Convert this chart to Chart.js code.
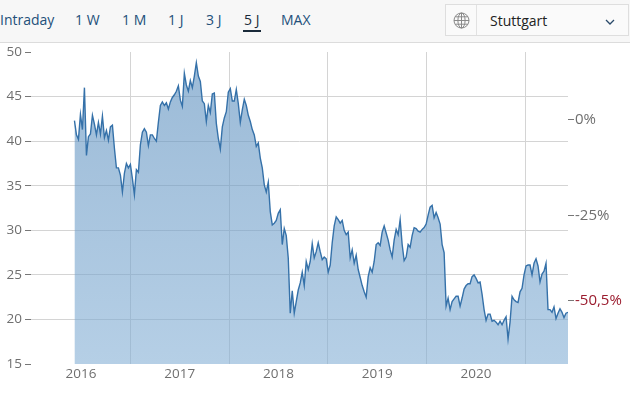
<!DOCTYPE html>
<html><head><meta charset="utf-8">
<script src="https://cdn.jsdelivr.net/npm/chart.js@4/dist/chart.umd.js"></script>
<style>
html,body{margin:0;padding:0;background:#fff;overflow:hidden}
#wrap{position:relative;width:630px;height:394px;font-family:"Open Sans",sans-serif}
canvas{position:absolute;left:0;top:0}
#head{position:absolute;left:0;top:0;width:630px;height:42px;background:#f7f7f7;border-bottom:1px solid #dcdcdc}
.t{position:absolute;top:10px;font-size:14px;line-height:20px;color:#23507a;white-space:nowrap}
#ul{position:absolute;left:243px;top:30px;width:18px;height:2px;background:#1a2a3a}
#sel{position:absolute;left:445px;top:4px;width:182px;height:30px;background:#fafafa;border:1px solid #dedede}
#div{position:absolute;left:30px;top:0;width:1px;height:30px;background:#e2e2e2}
#city{position:absolute;left:44px;top:6px;font-size:14px;line-height:20px;color:#222}
</style></head><body>
<div id="wrap">
<canvas id="c" width="630" height="394"></canvas>
<div id="head">
<span class="t" style="left:0">Intraday</span>
<span class="t" style="left:75px">1 W</span>
<span class="t" style="left:122px">1 M</span>
<span class="t" style="left:168px">1 J</span>
<span class="t" style="left:206px">3 J</span>
<span class="t" style="left:244px;color:#1a2a3a">5 J</span>
<div id="ul"></div>
<span class="t" style="left:281px">MAX</span>
<div id="sel">
<svg style="position:absolute;left:7px;top:7px" width="17" height="17" viewBox="0 0 17 17" fill="none" stroke="#8a8a8a" stroke-width="1">
<circle cx="8.5" cy="8.5" r="7.5"/><ellipse cx="8.5" cy="8.5" rx="3.6" ry="7.5"/><path d="M1 8.5h15M2 4.8h13M2 12.2h13M8.5 1v15"/></svg>
<div id="div"></div>
<span id="city">Stuttgart</span>
<svg style="position:absolute;left:159px;top:14px" width="10" height="7" viewBox="0 0 10 7" fill="none" stroke="#2a4a6a" stroke-width="1.3"><path d="M1 1l4 4 4-4"/></svg>
</div>
</div>
</div>
<script>
const prices = [
42.3,40.7,40.2,43.0,41.3,46.0,38.4,40.5,40.8,42.9,41.9,40.7,42.1,40.8,42.8,40.4,41.2,40.1,41.6,41.8,
39.2,37.0,37.0,36.2,34.3,36.4,37.5,37.0,37.4,35.8,34.0,36.8,36.5,39.6,41.0,41.4,41.0,39.5,40.7,40.7,
40.3,40.0,42.1,44.0,44.4,44.0,44.3,43.6,44.4,44.9,45.2,45.6,46.2,44.6,43.9,47.6,46.3,45.6,46.8,46.0,
47.3,48.8,47.3,46.7,44.5,44.2,42.2,44.0,43.2,45.3,45.4,42.0,40.3,39.1,41.6,42.6,43.3,45.5,45.9,44.5,
44.5,45.8,44.2,42.1,43.5,44.7,44.0,42.9,42.2,41.3,40.7,39.4,39.8,38.1,37.0,35.1,34.3,35.4,32.1,30.6,
30.8,31.1,31.9,32.3,28.4,30.2,29.4,26.9,20.7,23.2,20.7,22.0,23.3,24.1,25.3,23.8,26.5,25.6,26.5,28.5,
26.9,27.6,28.6,27.6,26.7,27.0,26.8,25.3,26.1,28.6,30.5,31.5,31.2,30.8,31.1,30.0,29.5,29.8,26.9,27.8,
26.3,27.2,25.6,24.7,23.8,23.1,22.5,24.8,25.8,25.3,26.5,28.4,28.6,28.3,29.8,30.5,29.7,28.9,27.8,27.0,
28.9,30.1,29.5,31.2,28.4,26.6,27.0,28.4,28.1,29.4,30.3,30.2,29.9,29.8,30.1,30.3,30.7,31.7,32.6,32.8,
31.4,32.0,31.4,30.7,28.4,27.5,21.5,22.4,21.1,22.0,22.3,22.6,22.6,21.5,22.4,23.4,23.8,24.0,24.0,24.8,
25.0,24.6,24.1,24.2,22.8,21.1,19.9,20.6,20.6,19.8,19.9,19.7,19.4,19.8,19.4,19.9,20.3,17.8,19.7,22.6,
22.2,22.0,21.9,23.1,23.5,25.0,26.0,26.1,26.1,25.0,26.3,26.8,26.0,24.2,25.1,25.4,26.3,21.1,21.1,20.8,
21.4,20.1,20.7,21.2,20.8,20.2,20.7,20.8
];
const firstDate = 2015.934;
const lastDate = 2020.932;
const yearLabels = [2016,2017,2018,2019,2020];
const midYears = [2016.5,2017.5,2018.5,2019.5,2020.5];
const priceTicks = [15,20,25,30,35,40,45,50];
const priceGridless = [15,50];
const pctTicks = [0,-25,-47.4];
const pctLabels = ['0%','-25%','-50,5%'];
const pctColors = ['#6f6f6f','#6f6f6f','#9b1c2e'];
const dates = prices.map((_,i)=>firstDate+i*(lastDate-firstDate)/(prices.length-1));
const points = prices.map((p,i)=>({x:dates[i],y:p}));

function fade(ctx){
  const a=ctx.chart.chartArea;
  if(!a) return 'rgba(110,160,200,.6)';
  const g=ctx.chart.ctx.createLinearGradient(0,a.top,0,a.bottom);
  g.addColorStop(0,'rgba(88,140,188,.6)');
  g.addColorStop(1,'rgba(132,175,213,.6)');
  return g;
}
const font={family:'"Open Sans",sans-serif',size:13.5};
const pctFont={family:'"Open Sans",sans-serif',size:15};
new Chart(document.getElementById('c'),{
  type:'line',
  data:{datasets:[{data:points,borderColor:'#3571a9',borderWidth:1.4,pointRadius:0,tension:0,fill:'start',backgroundColor:fade}]},
  options:{
    responsive:false,animation:false,
    layout:{padding:{top:52,left:0,right:0,bottom:0}},
    plugins:{legend:{display:false},tooltip:{enabled:false}},
    scales:{
      x:{type:'linear',min:2015.494,max:lastDate,
        afterBuildTicks(s){s.ticks=[...yearLabels,...midYears].sort((a,b)=>a-b).map(v=>({value:v}));},
        afterFit(s){s.height=30;},
        border:{display:false},
        grid:{drawTicks:false,color:c=>midYears.includes(c.tick&&c.tick.value)?'#d4d4d4':'rgba(0,0,0,0)'},
        ticks:{autoSkip:false,maxRotation:0,padding:2,color:'#6f6f6f',font,
          callback:v=>yearLabels.includes(v)?String(v):''}
      },
      y:{min:15,max:50,position:'left',
        afterBuildTicks(s){s.ticks=priceTicks.map(v=>({value:v}));},
        afterFit(s){s.width=31;},
        border:{display:false},
        grid:{tickLength:6,tickColor:'#777',color:c=>priceGridless.includes(c.tick&&c.tick.value)?'rgba(0,0,0,0)':'#d4d4d4'},
        ticks:{padding:3,color:'#6f6f6f',font}
      },
      y2:{min:-63.9,max:17.8,position:'right',
        afterBuildTicks(s){s.ticks=pctTicks.map(v=>({value:v}));},
        afterFit(s){s.width=62;},
        border:{display:false},
        grid:{drawOnChartArea:false,tickLength:6,tickColor:'#777'},
        ticks:{padding:1,font:pctFont,
          color:c=>pctColors[c.index],
          callback:(v,i)=>pctLabels[i]}
      }
    }
  }
});
</script>
</body></html>
